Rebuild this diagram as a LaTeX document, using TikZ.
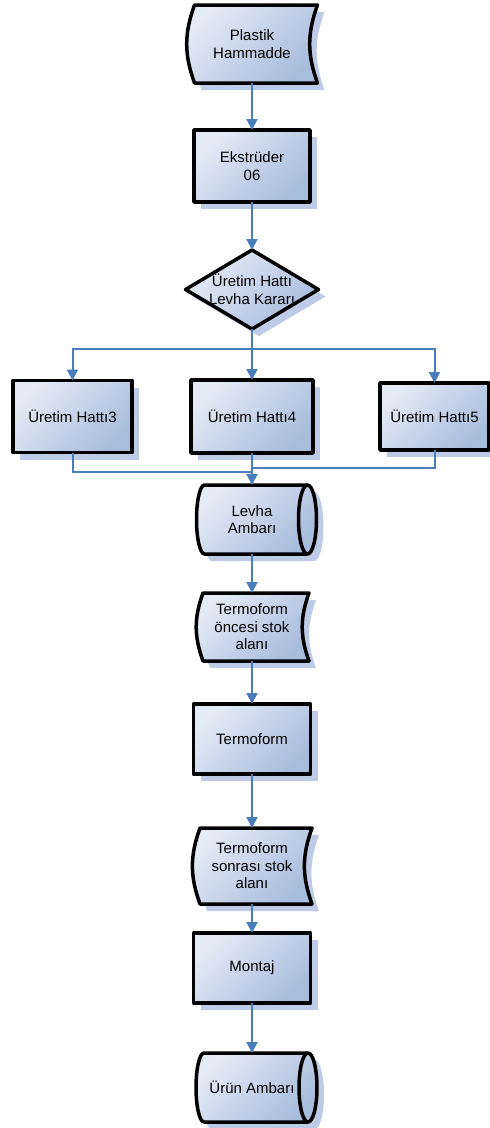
\documentclass[tikz,border=0pt]{standalone}
\usepackage{fontspec}
\setmainfont{Liberation Sans}
\usetikzlibrary{positioning,shapes.geometric,shadows,arrows.meta,backgrounds}
\definecolor{flowblue}{RGB}{74,126,187}
\definecolor{gradlight}{RGB}{228,235,246}
\definecolor{graddark}{RGB}{168,188,220}
\definecolor{shadowblue}{RGB}{190,203,230}
% stored data outline: node name, x offset, y offset
\newcommand{\storedpath}[3]{([xshift=#2+8pt,yshift=#3]#1.north west) -- ([xshift=#2,yshift=#3]#1.north east)
  to[bend right=20] ([xshift=#2,yshift=#3]#1.south east) -- ([xshift=#2+8pt,yshift=#3]#1.south west)
  to[bend left=20] ([xshift=#2+8pt,yshift=#3]#1.north west) -- cycle}
% drum outline: node name, x offset, y offset
\newcommand{\drumpath}[3]{([xshift=#2+8pt,yshift=#3]#1.north west) -- ([xshift=#2,yshift=#3]#1.north east)
  arc[start angle=90,end angle=-90,x radius=9pt,y radius=34.5pt] -- ([xshift=#2+8pt,yshift=#3]#1.south west)
  arc[start angle=270,end angle=90,x radius=8pt,y radius=34.5pt] -- cycle}
\begin{document}
\begin{tikzpicture}[x=1pt, y=1pt,
  every node/.style={font=\fontsize{15}{17.5}\selectfont, align=center, outer sep=0pt, inner sep=2pt},
  bluegrad/.style={top color=gradlight, bottom color=graddark, shading angle=45},
  outline/.style={draw=black, line width=3.5pt, line join=round},
  boxshadow/.style={drop shadow={shadow xshift=7pt, shadow yshift=-7pt, fill=shadowblue, opacity=1}},
  procbox/.style={rectangle, outline, bluegrad, boxshadow},
  decbox/.style={diamond, outline, bluegrad, boxshadow, minimum width=133pt, minimum height=79pt, inner sep=0pt},
  storebox/.style={rectangle},
  drumbox/.style={rectangle, minimum height=69pt},
  flow/.style={draw=flowblue, line width=2pt, -{Triangle[width=11pt,length=11pt]}},
  busline/.style={draw=flowblue, line width=2pt}]
  \useasboundingbox (0,0) rectangle (490,-1128);
  % main column
  \node[storebox, minimum width=131pt, minimum height=78pt] (plastik) at (252,-44) {Plastik\\Hammadde};
  \node[procbox, minimum width=116pt, minimum height=72pt, below=47pt of plastik] (ekstruder) {Ekstrüder\\06};
  \node[decbox, below=48pt of ekstruder, label={center:Üretim Hattı\\Levha Kararı}] (karar) {};
  \node[procbox, minimum width=122pt, minimum height=73pt, below=51pt of karar] (hat4) {Üretim Hattı4};
  \node[procbox, minimum width=119pt, minimum height=72pt, left=59pt of hat4] (hat3) {Üretim Hattı3};
  \node[procbox, minimum width=109pt, minimum height=67pt, right=67pt of hat4] (hat5) {Üretim Hattı5};
  \node[drumbox, minimum width=111pt, below=32pt of hat4] (levha) {Levha\\Ambarı};
  \node[storebox, minimum width=114pt, minimum height=68pt, below=39pt of levha] (oncesi) {Termoform\\öncesi stok\\alanı};
  \node[procbox, minimum width=117pt, minimum height=70pt, below=43pt of oncesi] (termo) {Termoform};
  \node[storebox, minimum width=120pt, minimum height=76pt, below=54pt of termo] (sonrasi) {Termoform\\sonrası stok\\alanı};
  \node[procbox, minimum width=117pt, minimum height=70pt, below=29pt of sonrasi] (montaj) {Montaj};
  \node[drumbox, minimum width=112pt, below=50pt of montaj] (urun) {Ürün Ambarı};
  % stored data and drum outlines
  \begin{scope}[on background layer]
    \foreach \n in {plastik,oncesi,sonrasi} {
      \fill[shadowblue] \storedpath{\n}{7pt}{-7pt};
      \draw[outline, bluegrad] \storedpath{\n}{0pt}{0pt};
    }
    \foreach \n in {levha,urun} {
      \fill[shadowblue] \drumpath{\n}{7pt}{-7pt};
      \draw[outline, bluegrad] \drumpath{\n}{0pt}{0pt};
      \draw[outline] (\n.north east) arc[start angle=90,end angle=270,x radius=9pt,y radius=34.5pt];
    }
  \end{scope}
  % connectors
  \coordinate[below=20pt of karar] (split);
  \coordinate[above=13pt of levha] (join3);
  \coordinate[above=17pt of levha] (join5);
  \draw[flow] (plastik) -- (ekstruder);
  \draw[flow] (ekstruder) -- (karar);
  \draw[flow] (karar) -- (hat4);
  \draw[flow] (split) -| (hat3);
  \draw[flow] (split) -| (hat5);
  \draw[busline] (hat3) |- (join3);
  \draw[busline] (hat5) |- (join5);
  \draw[flow] (hat4) -- (levha);
  \draw[flow] (levha) -- (oncesi);
  \draw[flow] (oncesi) -- (termo);
  \draw[flow] (termo) -- (sonrasi);
  \draw[flow] (sonrasi) -- (montaj);
  \draw[flow] (montaj) -- (urun);
\end{tikzpicture}
\end{document}
